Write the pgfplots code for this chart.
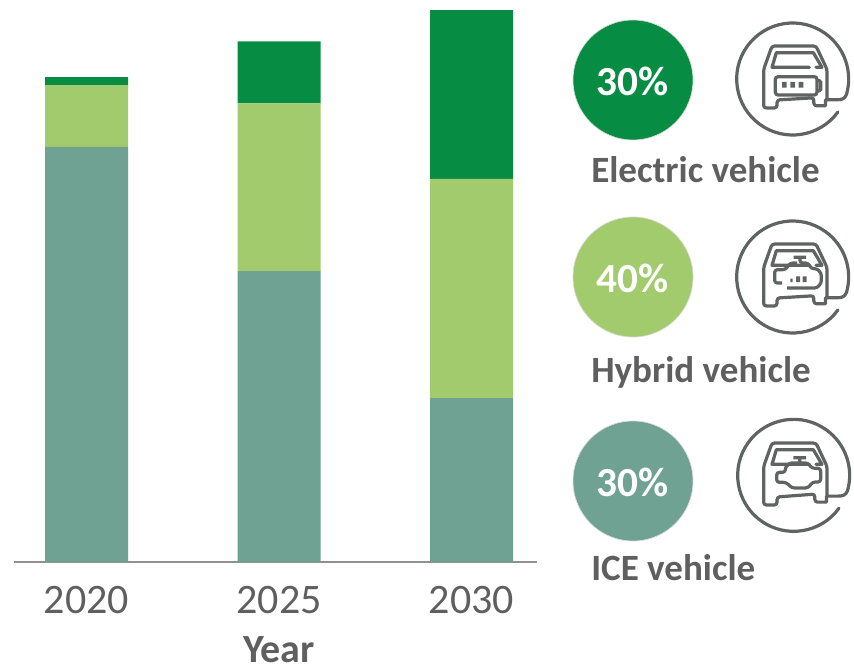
\documentclass[border=0pt]{standalone}
\usepackage{fontspec}
\setmainfont{Carlito}
\usepackage{pgfplots}
\pgfplotsset{compat=1.18}
\definecolor{evgreen}{HTML}{068D43}
\definecolor{hybgreen}{HTML}{A2CB6D}
\definecolor{icegreen}{HTML}{6FA293}
\definecolor{txtgray}{HTML}{5F5F5F}
\definecolor{icongray}{HTML}{5F6362}
\definecolor{axisgray}{HTML}{909090}

% circle with the gap, car body and windshield, in 3x crop units
\newcommand{\caricon}[3]{%
  \path[draw=icongray,line width=2.4pt,line join=round,line cap=round]
    (#1,#2) ++(36:168) arc[start angle=36,end angle=376,radius=168]
      .. controls +(-5,14) and +(12,0) .. ++(-28,16) -- ++(-35,0)
      -- ++(0,18) [rounded corners=2pt] -- ++(-35,0) -- ++(0,-24) -- (165,270) -- (165,294) -- (125,294)
      -- (125,178) -- (150,108) -- (282,108) -- (315,178) -- (315,270);
  \draw[icongray,line width=2.4pt,line join=round,line cap=round]
    (262,172) -- (150,172) -- (163,128) -- (274,128) -- (300,172) -- (282,172);
  #3
}
\newcommand{\batt}{%
  \draw[icongray,line width=2.4pt,rounded corners=2pt] (160,200) rectangle (285,255);
  \draw[icongray,line width=2.4pt,rounded corners=1pt] (285,212) -- (296,212) -- (296,242) -- (285,242);
  \fill[icongray] (180,216) rectangle (194,233) (205,216) rectangle (219,233) (230,216) rectangle (244,233);
}
\newcommand{\hybrid}{%
  \draw[icongray,line width=2.4pt,line join=round,rounded corners=2pt]
    (215,148) -- (252,148) (234,148) -- (234,165) -- (258,165) -- (268,182) -- (285,182) -- (298,196) -- (298,225) -- (285,240) -- (195,240)
    (225,165) -- (205,165) -- (190,185) -- (158,185) -- (158,225) -- (180,225);
  \fill[icongray] (205,212) rectangle (212,222) (222,205) rectangle (234,222) (242,205) rectangle (254,222);
}
\newcommand{\engine}{%
  \draw[icongray,line width=2.4pt,line join=round,rounded corners=2pt]
    (214,152) -- (252,152) (233,152) -- (233,168) (205,168) -- (258,168) -- (270,184) -- (296,184) -- (296,225) -- (272,225) -- (258,243) -- (210,243) -- (192,226) -- (164,226) -- (164,196) -- (190,196) -- (190,180) -- (205,168);
}

\begin{document}
\begin{tikzpicture}
\useasboundingbox (0pt,0pt) rectangle (640.5pt,-500.25pt);
\begin{axis}[
    at={(10.5pt,-421.5pt)},
    anchor=south west,
    scale only axis,
    width=392.25pt,
    height=414pt,
    ybar stacked,
    bar width=62.25pt,
    xmin=-0.377, xmax=2.34,
    ymin=0, ymax=100,
    xtick=data,
    xticklabels={2020,2025,2030},
    axis y line=none,
    axis x line=bottom,
    x axis line style={-,draw=axisgray,line width=0.9pt},
    major tick length=0pt,
    tick style={draw=none},
    xticklabel style={font=\fontsize{31.5}{36}\selectfont,text=txtgray,yshift=-14.5pt},
    xlabel={\textbf{Year}},
    xlabel style={at={(axis description cs:0.5067,0)},anchor=base,font=\fontsize{30}{34}\selectfont,text=txtgray,yshift=-75pt},
]
\addplot[fill=icegreen,draw=none] coordinates {(0,75.2) (1,52.7) (2,29.7)};
\addplot[fill=hybgreen,draw=none] coordinates {(0,11.2) (1,30.4) (2,39.7)};
\addplot[fill=evgreen,draw=none] coordinates {(0,1.45) (1,11.2) (2,30.6)};
\end{axis}

\begin{scope}[x=0.75pt,y=-0.75pt]
\fill[evgreen] (633,80) circle[radius=60];
\fill[hybgreen] (633,277) circle[radius=60];
\fill[icegreen] (633,481) circle[radius=60];
\draw[white!85!black,line width=0.5pt] (633,80) circle[radius=60] (633,277) circle[radius=60] (633,481) circle[radius=60];
\node[white,font=\fontsize{31}{34}\bfseries\selectfont] at (633,81) {30\%};
\node[white,font=\fontsize{31}{34}\bfseries\selectfont] at (633,278) {40\%};
\node[white,font=\fontsize{31}{34}\bfseries\selectfont] at (633,482) {30\%};

\node[anchor=base west,inner sep=0pt,text=txtgray,font=\fontsize{27.8}{30}\bfseries\selectfont] at (591,182) {Electric vehicle};
\node[anchor=base west,inner sep=0pt,text=txtgray,font=\fontsize{27.8}{30}\bfseries\selectfont] at (591,382) {Hybrid vehicle};
\node[anchor=base west,inner sep=0pt,text=txtgray,font=\fontsize{27.8}{30}\bfseries\selectfont] at (591,580) {ICE vehicle};

\begin{scope}[shift={(722,10)},x=0.25pt,y=-0.25pt]
\caricon{212}{207}{\batt}
\end{scope}
\begin{scope}[shift={(722,208)},x=0.25pt,y=-0.25pt]
\caricon{212}{207}{\hybrid}
\end{scope}
\begin{scope}[shift={(722,407)},x=0.25pt,y=-0.25pt]
\caricon{215}{205}{\engine}
\end{scope}
\end{scope}
\end{tikzpicture}
\end{document}
